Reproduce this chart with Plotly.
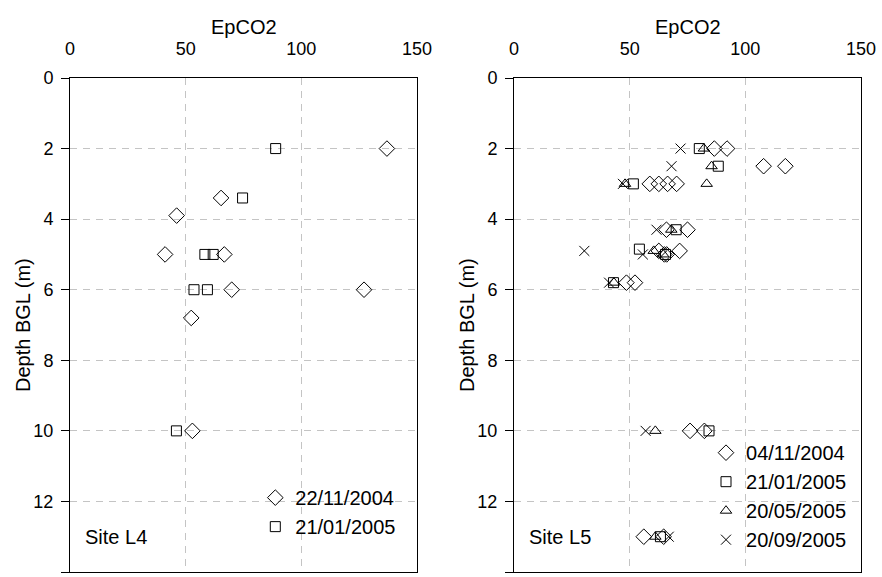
import plotly.graph_objects as go

# ---- Site L4 data ----
l4_d1_label = "22/11/2004"
l4_d1_x = [137, 65.3, 46.1, 41.1, 66.7, 69.9, 127.1, 52.4, 52.9]
l4_d1_y = [2.0, 3.4, 3.9, 5.0, 5.0, 6.0, 6.0, 6.8, 10.0]
l4_d2_label = "21/01/2005"
l4_d2_x = [88.9, 74.6, 58.3, 61.9, 53.6, 59.4, 46.0]
l4_d2_y = [2.0, 3.4, 5.0, 5.0, 6.0, 6.0, 10.0]

# ---- Site L5 data ----
l5_d1_label = "04/11/2004"
l5_d1_x = [86.6, 92.1, 107.9, 117.3, 58.7, 62.6, 66.4, 70.3, 65.9, 75.0, 62.6, 65.0, 66.0, 71.6, 48.6, 52.3, 76.1, 82.3, 56.1, 64.7]
l5_d1_y = [2.0, 2.0, 2.5, 2.5, 3.0, 3.0, 3.0, 3.0, 4.3, 4.3, 4.9, 5.0, 5.0, 4.9, 5.8, 5.8, 10.0, 10.0, 13.0, 13.0]
l5_d2_label = "21/01/2005"
l5_d2_x = [80.1, 88.3, 51.6, 70.1, 54.2, 65.5, 43.0, 84.3, 63.3]
l5_d2_y = [2.0, 2.5, 3.0, 4.3, 4.85, 5.0, 5.8, 10.0, 13.0]
l5_d3_label = "20/05/2005"
l5_d3_x = [82.1, 85.4, 48.0, 83.3, 68.0, 60.4, 64.5, 43.2, 61.1, 61.1]
l5_d3_y = [2.0, 2.5, 3.0, 3.0, 4.3, 4.9, 5.0, 5.8, 10.0, 13.0]
l5_d4_label = "20/09/2005"
l5_d4_x = [72.0, 68.1, 47.1, 61.6, 30.4, 55.7, 41.1, 56.9, 66.9]
l5_d4_y = [2.0, 2.5, 3.0, 4.3, 4.9, 5.0, 5.8, 10.0, 13.0]

x_ticks = [0, 50, 100, 150]
y_ticks = [0, 2, 4, 6, 8, 10, 12, 14]
x_title = "EpCO2"
y_title = "Depth BGL (m)"
site_labels = ["Site L4", "Site L5"]

FONT = "Liberation Sans, Arial, sans-serif"
W, H = 882, 577
T, B = 78, 5
PH = H - T - B

fig = go.Figure()

def add(x, y, name, symbol, xa, ya, legend, size=10):
    fig.add_trace(go.Scatter(
        x=x, y=y, mode="markers", name=name,
        marker=dict(symbol=symbol, size=size, color="black",
                    line=dict(color="black", width=1)),
        xaxis=xa, yaxis=ya, legend=legend))

add(l4_d1_x, l4_d1_y, l4_d1_label, "diamond-open", "x", "y", "legend", 12)
add(l4_d2_x, l4_d2_y, l4_d2_label, "square-open", "x", "y", "legend", 10)
add(l5_d1_x, l5_d1_y, l5_d1_label, "diamond-open", "x2", "y2", "legend2", 12)
add(l5_d2_x, l5_d2_y, l5_d2_label, "square-open", "x2", "y2", "legend2", 10)
add(l5_d3_x, l5_d3_y, l5_d3_label, "triangle-up-open", "x2", "y2", "legend2", 10)
add(l5_d4_x, l5_d4_y, l5_d4_label, "x-thin-open", "x2", "y2", "legend2", 10)

GRID = "#c4c4c4"
xaxis_common = dict(
    range=[0, 150], tickvals=x_ticks, side="top",
    showline=True, linecolor="black", linewidth=1, mirror=True,
    showgrid=True, gridcolor=GRID, griddash="7px,6px", gridwidth=1,
    ticks="", ticklabelstandoff=15,
    tickfont=dict(size=18, color="black", family=FONT),
    zeroline=False, fixedrange=True, automargin=False)
yaxis_common = dict(
    range=[14, 0], tickvals=y_ticks,
    showline=True, linecolor="black", linewidth=1, mirror=True,
    showgrid=True, gridcolor=GRID, griddash="7px,6px", gridwidth=1,
    ticks="outside", ticklen=8, tickcolor="black", ticklabelstandoff=4,
    tickfont=dict(size=18, color="black", family=FONT),
    zeroline=False, fixedrange=True, automargin=False)

panels = [(70, 417), (514, 861)]

annotations = []
for (x0, x1), site in zip(panels, site_labels):
    cx = (x0 + x1) / 2 / W
    annotations.append(dict(text=x_title, x=cx, y=1 + (T - 27) / PH,
                            xref="paper", yref="paper", showarrow=False,
                            xanchor="center", yanchor="middle",
                            font=dict(size=20, family=FONT, color="black")))
    annotations.append(dict(text=y_title, x=(x0 - 47) / W, y=0.5,
                            xref="paper", yref="paper", showarrow=False,
                            textangle=-90, xanchor="center", yanchor="middle",
                            font=dict(size=20, family=FONT, color="black")))
    annotations.append(dict(text=site, x=(x0 + 13) / W, y=(H - B - 537) / PH,
                            xref="paper", yref="paper", showarrow=False,
                            xanchor="left", yanchor="middle",
                            font=dict(size=20, family=FONT, color="black")))

fig.update_layout(
    width=W, height=H,
    margin=dict(l=0, r=0, t=T, b=B, autoexpand=False),
    paper_bgcolor="white", plot_bgcolor="white",
    font=dict(family=FONT, color="black"),
    xaxis=dict(domain=[panels[0][0] / W, panels[0][1] / W], anchor="y", **xaxis_common),
    yaxis=dict(domain=[0, 1], anchor="x", **yaxis_common),
    xaxis2=dict(domain=[panels[1][0] / W, panels[1][1] / W], anchor="y2", **xaxis_common),
    yaxis2=dict(domain=[0, 1], anchor="x2", **yaxis_common),
    legend=dict(x=0.455, y=0.19, xanchor="right", yanchor="top",
                bgcolor="rgba(0,0,0,0)", font=dict(size=20, family=FONT),
                tracegroupgap=0, itemwidth=30),
    legend2=dict(x=0.966, y=0.281, xanchor="right", yanchor="top",
                 bgcolor="rgba(0,0,0,0)", font=dict(size=20, family=FONT),
                 tracegroupgap=0, itemwidth=30),
    showlegend=True,
    annotations=annotations,
)

fig.write_html("out.html", config={"displayModeBar": False},
               post_script="document.body.style.margin='0px';")
